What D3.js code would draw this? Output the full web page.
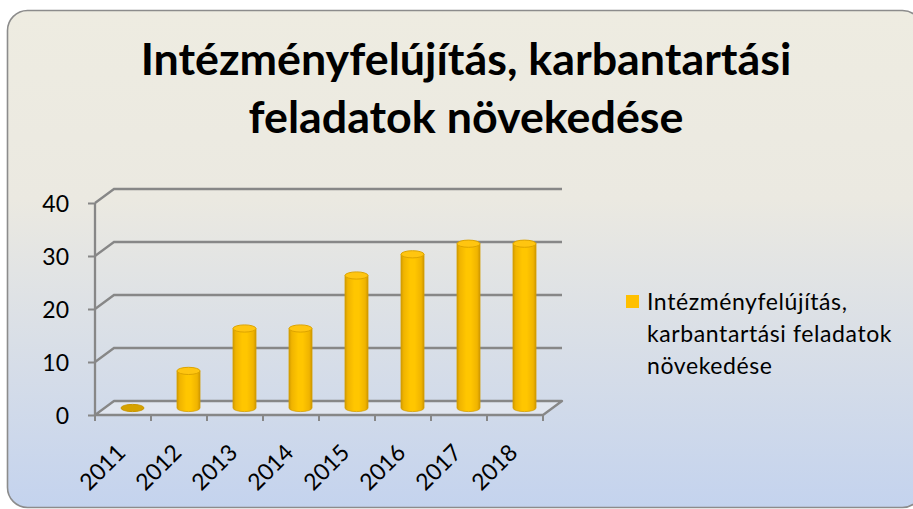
<!DOCTYPE html>
<html>
<head>
<meta charset="utf-8">
<script src="https://cdn.jsdelivr.net/npm/d3@7"></script>
<style>
  html, body { margin: 0; padding: 0; background: #ffffff; }
  svg { display: block; }
  text { font-family: Lato, "Open Sans", "DejaVu Sans", sans-serif; fill: #000; }
</style>
</head>
<body>
<svg id="chart" width="913" height="509"></svg>
<script>
// ---- data ----
const titleLines = ["Intézményfelújítás, karbantartási", "feladatok növekedése"];
const categories = ["2011", "2012", "2013", "2014", "2015", "2016", "2017", "2018"];
const values = [0, 7, 15, 15, 25, 29, 31, 31];
const yTicks = [0, 10, 20, 30, 40];
const seriesName = ["Intézményfelújítás,", "karbantartási feladatok", "növekedése"];

// ---- setup ----
const svg = d3.select("#chart");
const defs = svg.append("defs");

const bg = defs.append("linearGradient").attr("id", "bg").attr("x1", 0).attr("y1", 0).attr("x2", 0).attr("y2", 1);
bg.append("stop").attr("offset", "0").attr("stop-color", "#EEECE1");
bg.append("stop").attr("offset", "0.38").attr("stop-color", "#EBE9E1");
bg.append("stop").attr("offset", "1").attr("stop-color", "#C4D3EE");

const barG = defs.append("linearGradient").attr("id", "barg").attr("x1", 0).attr("y1", 0).attr("x2", 1).attr("y2", 0);
[[0, "#D29B00"], [0.12, "#F0B400"], [0.4, "#FFC600"], [0.6, "#FFC600"], [0.88, "#F0B400"], [1, "#CE9600"]]
  .forEach(([o, c]) => barG.append("stop").attr("offset", o).attr("stop-color", c));

// chart area background
svg.append("rect")
  .attr("x", 7.5).attr("y", 10.5).attr("width", 915).attr("height", 497)
  .attr("rx", 20).attr("ry", 20)
  .attr("fill", "url(#bg)")
  .attr("stroke", "#8C8C8C").attr("stroke-width", 1.6);

// ---- title ----
function fitText(sel, target) {
  const len = sel.node().getComputedTextLength();
  const fs = parseFloat(sel.attr("font-size"));
  sel.attr("font-size", fs * target / len);
}
const tx = 466;
const t1 = svg.append("text").attr("x", tx).attr("y", 75).attr("text-anchor", "middle")
  .attr("font-weight", "bold").attr("font-size", 40).text(titleLines[0]);
fitText(t1, 651);
svg.append("text").attr("x", tx).attr("y", 133).attr("text-anchor", "middle")
  .attr("font-weight", "bold").attr("font-size", t1.attr("font-size")).text(titleLines[1]);

// ---- scales ----
const x = d3.scaleBand().domain(categories).range([95, 543]).padding(0);
const y = d3.scaleLinear().domain([0, 40]).range([415, 203]);
const depthX = 19, depthY = -14;   // 3D depth offset of back wall
const gridCol = "#878787";

// floor
const x0 = x.range()[0], x1 = x.range()[1];
svg.append("path")
  .attr("d", `M${x0},${y(0)} L${x1},${y(0)} L${x1 + depthX},${y(0) + depthY} L${x0 + depthX},${y(0) + depthY} Z`)
  .attr("fill", "#EEF0F4").attr("fill-opacity", 0.55)
  .attr("stroke", gridCol).attr("stroke-width", 2.3).attr("stroke-linejoin", "round");

// gridlines on the back wall (with side diagonal)
svg.append("g").selectAll("path").data(yTicks.filter(d => d > 0)).join("path")
  .attr("d", d => `M${x0},${y(d)} L${x0 + depthX},${y(d) + depthY} L${x1 + depthX},${y(d) + depthY}`)
  .attr("fill", "none").attr("stroke", gridCol).attr("stroke-width", 2.3);

// front y axis line
svg.append("line").attr("x1", x0).attr("x2", x0).attr("y1", y(40)).attr("y2", y(0))
  .attr("stroke", gridCol).attr("stroke-width", 2.3);

// y axis ticks and labels
const yAxis = d3.axisLeft(y).tickValues(yTicks).tickSize(7).tickPadding(0);
const yg = svg.append("g").attr("transform", `translate(${x0},0)`).call(yAxis);
yg.select(".domain").remove();
yg.selectAll(".tick line").attr("stroke", gridCol).attr("stroke-width", 2);
yg.selectAll(".tick text").attr("x", -26).attr("dy", "0.36em")
  .attr("font-size", 23).attr("font-family", "Lato, sans-serif").attr("fill", "#000");

// x axis ticks (boundaries) and labels
const xg = svg.append("g");
xg.selectAll("line").data(d3.range(categories.length + 1)).join("line")
  .attr("x1", i => x0 + i * x.bandwidth()).attr("x2", i => x0 + i * x.bandwidth())
  .attr("y1", y(0)).attr("y2", y(0) + 6)
  .attr("stroke", gridCol).attr("stroke-width", 2);
xg.selectAll("text").data(categories).join("text")
  .attr("transform", d => `translate(${x(d) + x.bandwidth() / 2 + 4},${454}) rotate(-45)`)
  .attr("text-anchor", "end").attr("font-size", 23).text(d => d);

// ---- bars (cylinders) ----
const bw = 23, ry = 3.6;
const bx = d => x(d) + x.bandwidth() / 2 + depthX / 2;
const base = v => y(v) + depthY / 2;
const bars = svg.append("g").selectAll("g").data(categories.map((c, i) => ({ c, v: values[i] }))).join("g");
bars.filter(d => d.v > 0).append("path")
  .attr("d", d => {
    const cx = bx(d.c), yt = base(d.v), yb = base(0);
    return `M${cx - bw / 2},${yt} L${cx - bw / 2},${yb} A${bw / 2},${ry} 0 0 0 ${cx + bw / 2},${yb} L${cx + bw / 2},${yt} Z`;
  })
  .attr("fill", "url(#barg)").attr("stroke", "#D49E00").attr("stroke-width", 0.8);
bars.append("ellipse")
  .attr("cx", d => bx(d.c)).attr("cy", d => base(d.v))
  .attr("rx", bw / 2).attr("ry", ry)
  .attr("fill", d => d.v > 0 ? "#FFC510" : "#D6A200")
  .attr("stroke", d => d.v > 0 ? "#DDA400" : "#C99600").attr("stroke-width", 1);

// ---- legend ----
svg.append("rect").attr("x", 626).attr("y", 295).attr("width", 13).attr("height", 13).attr("fill", "#FFC000");
const lg = svg.append("g");
seriesName.forEach((s, i) => {
  lg.append("text").attr("x", 647).attr("y", 310 + i * 32).attr("font-size", 23)
    .attr("letter-spacing", 0.6).text(s);
});
</script>
</body>
</html>
